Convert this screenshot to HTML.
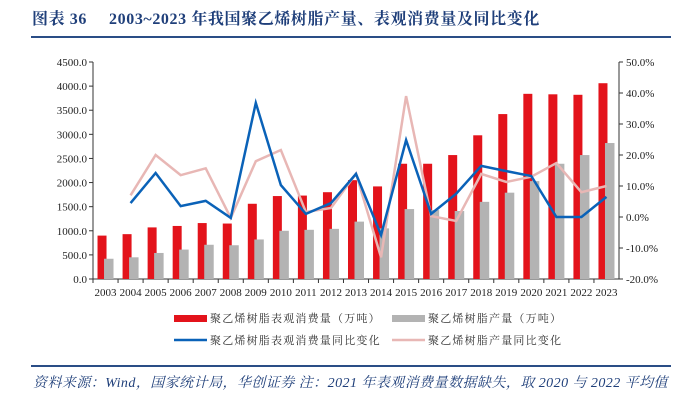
<!DOCTYPE html>
<html><head><meta charset="utf-8"><style>
body{margin:0;background:#fff;width:685px;height:400px;overflow:hidden;position:relative;font-family:"Liberation Serif","Noto Serif CJK SC",serif}
.t{position:absolute;white-space:nowrap}
</style></head><body>
<div class="t" style="left:32px;top:6px;font-size:16px;font-weight:bold;color:#1f3f7a;letter-spacing:0.6px">图表 36<span style="display:inline-block;width:22px"></span>2003~2023 年我国聚乙烯树脂产量、表观消费量及同比变化</div>
<div style="position:absolute;left:31px;top:36px;width:640px;height:2px;background:#2a4d86"></div>
<svg id="c" width="685" height="400" style="position:absolute;left:0;top:0"></svg>
<div style="position:absolute;left:31px;top:365px;width:640px;height:2px;background:#2a4d86"></div>
<div class="t" style="left:33px;top:372px;font-size:14px;font-style:italic;color:#1f3f7a;letter-spacing:0.45px;font-family:'Liberation Serif','Noto Serif CJK SC',serif">资料来源：Wind，国家统计局，华创证券 注：2021 年表观消费量数据缺失，取 2020 与 2022 平均值</div>
<script>
const years=["2003","2004","2005","2006","2007","2008","2009","2010","2011","2012","2013","2014","2015","2016","2017","2018","2019","2020","2021","2022","2023"];
const consumption=[900,930,1070,1100,1160,1150,1560,1720,1730,1800,2050,1920,2390,2390,2570,2980,3420,3840,3830,3820,4060];
const production=[420,450,540,610,710,700,820,1000,1020,1040,1190,1050,1450,1430,1410,1600,1790,2030,2390,2570,2820];
const consGrowth=[null,4.5,14.2,3.5,5.2,-0.3,36.8,10.3,1.0,4.5,13.9,-5.8,24.8,1.0,7.5,16.5,14.8,13.2,0,0,6.5];
const prodGrowth=[null,7,20,13.5,15.7,-0.3,18,21.6,1.6,2.9,14,-13,39,0.3,-1.3,13.9,11.3,13,17.4,8,10];
const leftTicks=[0,500,1000,1500,2000,2500,3000,3500,4000,4500];
const rightTicks=[-20,-10,0,10,20,30,40,50];
const svg=document.getElementById('c');const NS='http://www.w3.org/2000/svg';
const X0=93,X1=619,Y0=279,Y1=62;
const bw=(X1-X0)/years.length;
const xc=i=>X0+bw*(i+0.5);
const yL=v=>Y0-(v/4500)*(Y0-Y1);
const yR=v=>Y0-((v+20)/70)*(Y0-Y1);
function mk(t,a,p){const e=document.createElementNS(NS,t);for(const k in a)e.setAttribute(k,a[k]);(p||svg).appendChild(e);return e;}
let ax=mk('line',{x1:X0,y1:Y1,x2:X0,y2:Y0,stroke:'#333','stroke-width':1});

ax=mk('line',{x1:X1,y1:Y1,x2:X1,y2:Y0,stroke:'#333','stroke-width':1});

ax=mk('line',{x1:X0,y1:Y0,x2:X1,y2:Y0,stroke:'#333','stroke-width':1});

leftTicks.forEach(v=>{const y=yL(v);mk('line',{x1:X0-4,y1:y,x2:X0,y2:y,stroke:'#333'});
 const t=mk('text',{x:X0-6,y:y+4,'text-anchor':'end','font-size':11,fill:'#222','font-family':'Liberation Serif'});t.textContent=v.toFixed(1);
 });
rightTicks.forEach(v=>{const y=yR(v);mk('line',{x1:X1,y1:y,x2:X1+4,y2:y,stroke:'#333'});
 const t=mk('text',{x:X1+7,y:y+4,'font-size':11,fill:'#222','font-family':'Liberation Serif'});t.textContent=v.toFixed(1)+'%';
 });
years.forEach((yr,i)=>{mk('line',{x1:X0+bw*i,y1:Y0,x2:X0+bw*i,y2:Y0+4,stroke:'#333'});
 const t=mk('text',{x:xc(i),y:Y0+17,'text-anchor':'middle','font-size':11,fill:'#222','font-family':'Liberation Serif'});t.textContent=yr;
 });
consumption.forEach((v,i)=>{const r=mk('rect',{x:xc(i)-8,y:yL(v),width:9,height:Y0-yL(v),fill:'#e3131b'});
 });
production.forEach((v,i)=>{const r=mk('rect',{x:xc(i)-1.5,y:yL(v),width:9.5,height:Y0-yL(v),fill:'#b3b3b3'});
 });
function line(arr,col,name){const pts=[];arr.forEach((v,i)=>{if(v!==null)pts.push(xc(i)+','+yR(v));});
 const p=mk('polyline',{points:pts.join(' '),fill:'none',stroke:col,'stroke-width':2.5,'stroke-linejoin':'miter'});
 }
line(prodGrowth,'#e8b7b5','production-growth-line');
line(consGrowth,'#0a62b8','consumption-growth-line');
const leg=[['rect','#e3131b',174,318,'聚乙烯树脂表观消费量（万吨）','legend-consumption'],['rect','#b3b3b3',392,318,'聚乙烯树脂产量（万吨）','legend-production'],['line','#0a62b8',174,340,'聚乙烯树脂表观消费量同比变化','legend-consumption-growth'],['line','#e8b7b5',392,340,'聚乙烯树脂产量同比变化','legend-production-growth']];
leg.forEach(l=>{const g=mk('g',{});
 if(l[0]=='rect')mk('rect',{x:l[2],y:l[3]-3,width:33,height:7,fill:l[1]},g);else mk('line',{x1:l[2],y1:l[3],x2:l[2]+33,y2:l[3],stroke:l[1],'stroke-width':2.5},g);
 const t=mk('text',{x:l[2]+36,y:l[3]+4,'font-size':11,fill:'#333','font-family':'Noto Serif CJK SC, serif','letter-spacing':'1.2'},g);t.textContent=l[4];});
</script>
</body></html>
